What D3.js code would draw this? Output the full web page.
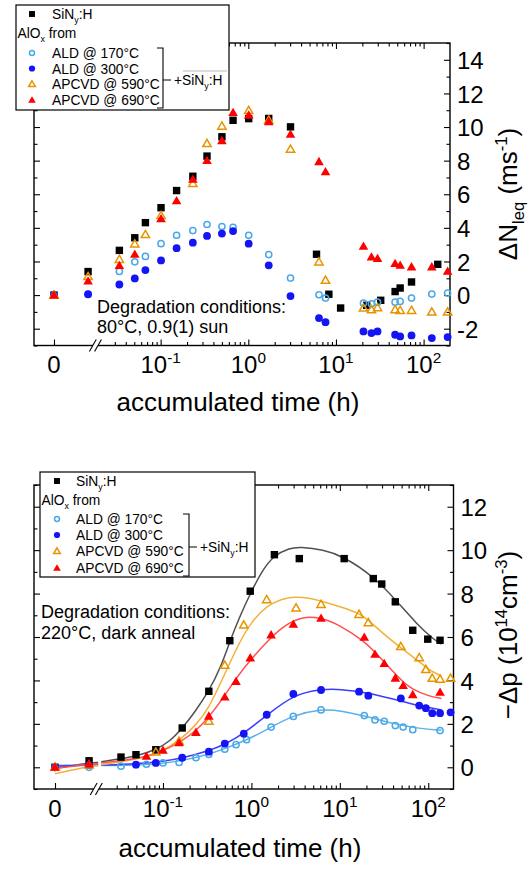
<!DOCTYPE html>
<html><head><meta charset="utf-8">
<script src="https://cdnjs.cloudflare.com/ajax/libs/d3/7.8.5/d3.min.js"></script>
<style>body{margin:0;background:#fff}svg{display:block}</style>
</head><body><svg id="c" width="532" height="869"></svg>
<script>
// ---------------- data ----------------
const legendLabels = ["ALD @ 170°C", "ALD @ 300°C", "APCVD @ 590°C", "APCVD @ 690°C"];
const xMajorTicks = [0.1, 1, 10, 100];
const xMajorExp = ["-1", "0", "1", "2"];
const xMinorTicks = [0.03,0.04,0.05,0.06,0.07,0.08,0.09,0.2,0.3,0.4,0.5,0.6,0.7,0.8,0.9,2,3,4,5,6,7,8,9,20,30,40,50,60,70,80,90];
const topYMajor = [-2, 0, 2, 4, 6, 8, 10, 12, 14];
const topYMinor = [-3, -1, 1, 3, 5, 7, 9, 11, 13, 15];
const botYMajor = [0, 2, 4, 6, 8, 10, 12];
const botYMinor = [-1, 1, 3, 5, 7, 9, 11, 13];

// top panel: ΔN_leq (ms^-1) vs time (h)
const topSiN = [[0,0],[0.0167,1.4],[0.0338,2.66],[0.0507,3.41],[0.067,4.31],[0.101,5.2],[0.152,6.22],[0.233,7.07],[0.338,8.27],[0.5,9.42],[0.67,10.4],[1.01,10.5],[1.71,10.51],[3.03,10.01],[6.0,2.43],[8.3,0.05],[11.3,-0.77],[22.4,-0.61],[32.4,-0.31],[47.3,0.21],[54,0.42],[72.8,0.78],[145,1.83]];
const topALD170 = [[0,0],[0.0167,0.05],[0.0338,1.41],[0.0507,1.98],[0.067,2.3],[0.101,3.06],[0.152,3.56],[0.233,3.84],[0.338,4.2],[0.5,4.08],[0.67,4.03],[1.01,3.56],[1.71,2.41],[3.03,1.01],[6.4,0.02],[7.6,-0.18],[20.6,-0.48],[25.4,-0.52],[29.8,-0.42],[47.3,-0.42],[54,-0.38],[72.8,-0.18],[124,0.06],[188,0.12]];
const topALD300 = [[0,0],[0.0167,0.05],[0.0338,0.63],[0.0507,0.99],[0.067,1.49],[0.101,2.06],[0.152,2.79],[0.233,3.12],[0.338,3.52],[0.5,3.66],[0.67,3.81],[1.01,3.06],[1.71,1.77],[3.03,-0.06],[6.4,-1.37],[7.6,-1.61],[20.6,-2.16],[25.4,-2.26],[29.8,-2.16],[47.3,-2.36],[54,-2.46],[72.8,-2.4],[124,-2.56],[188,-2.5]];
const topAP590 = [[0,0],[0.0167,1.1],[0.0338,2.12],[0.0507,3.04],[0.067,3.6],[0.101,4.73],[0.233,6.64],[0.338,9.02],[0.5,10.05],[1.01,10.98],[1.71,10.41],[3.03,8.68],[6.4,1.97],[7.6,0.88],[20.6,-0.77],[25.4,-0.87],[29.8,-0.75],[47.3,-0.87],[54,-0.91],[72.8,-0.91],[124,-1.01],[188,-1.01]];
const topAP690 = [[0,0],[0.0167,0.83],[0.0338,1.75],[0.0507,2.42],[0.101,4.53],[0.152,5.6],[0.233,6.88],[0.338,8.0],[0.5,9.18],[0.67,10.85],[1.01,10.7],[1.71,10.31],[3.03,9.56],[6.4,7.93],[7.6,7.33],[20.6,2.9],[25.4,2.26],[29.8,2.17],[47.3,1.87],[54,1.77],[72.8,1.67],[124,1.67],[188,1.41]];

// bottom panel: −Δp (10^14 cm^-3) vs time (h)
const botSiN = [[0,0],[0.0167,0.3],[0.0335,0.47],[0.0495,0.58],[0.083,0.81],[0.165,1.81],[0.33,3.5],[0.57,5.83],[0.97,8.11],[1.82,9.79],[3.48,9.61],[11.2,9.61],[23.9,8.69],[29.8,8.44],[42.4,7.62],[66.8,6.31],[98.7,5.9],[136,5.85]];
const botALD170 = [[0,0],[0.0167,0.0],[0.0335,0.05],[0.065,0.14],[0.1,0.2],[0.152,0.22],[0.236,0.44],[0.33,0.59],[0.5,0.83],[0.67,1.04],[0.88,1.27],[1.67,1.85],[2.98,2.34],[6.13,2.64],[18.9,2.38],[25,2.18],[31.8,2.12],[42.4,1.92],[52,1.85],[66.8,1.73],[136,1.69]];
const botALD300 = [[0,0],[0.0167,0.1],[0.0495,0.12],[0.083,0.2],[0.165,0.44],[0.33,0.72],[0.5,1.09],[0.82,1.55],[1.49,2.42],[2.98,3.38],[6.13,3.56],[16.5,3.48],[21,3.3],[49,3.17],[79,2.84],[94,2.72],[111,2.49],[136,2.49],[179,2.53]];
const botAP590 = [[0,0],[0.0167,0.1],[0.083,0.7],[0.152,1.2],[0.33,2.12],[0.5,4.7],[0.82,6.55],[1.49,7.72],[3.2,7.34],[6.13,7.5],[16.5,7.04],[21,6.66],[49,5.56],[79,5.05],[94,4.5],[111,4.1],[136,4.06],[179,4.1]];
const botAP690 = [[0,0],[0.0167,0.15],[0.065,0.5],[0.1,0.78],[0.152,1.12],[0.236,1.6],[0.33,2.35],[0.5,3.23],[0.67,3.95],[0.97,5.03],[1.67,6.09],[2.98,6.58],[6.13,6.86],[18.9,5.98],[25,5.2],[31.8,4.77],[42.4,4.1],[52,3.76],[66.8,3.34],[136,3.45]];

// bottom panel fit curves
const fitSiN = [[0,-0.05],[0.0167,0.2],[0.0185,0.22],[0.02,0.25],[0.034,0.4],[0.05,0.52],[0.083,0.8],[0.12,1.2],[0.165,1.8],[0.23,2.55],[0.33,3.5],[0.45,4.6],[0.57,5.8],[0.74,6.96],[1.0,8.1],[1.3,9.0],[1.77,9.75],[2.73,10.1],[3.54,10.15],[6.5,10.02],[10.9,9.72],[24,8.8],[44,7.66],[74,6.6],[114,5.9],[141,5.67]];
const fitALD170 = [[0,0.1],[0.0167,0.08],[0.0185,0.08],[0.02,0.08],[0.05,0.1],[0.1,0.18],[0.165,0.3],[0.33,0.6],[0.5,0.85],[1.0,1.35],[1.67,1.85],[3,2.4],[6.2,2.68],[10,2.62],[20,2.35],[40,2.0],[80,1.78],[141,1.7]];
const fitALD300 = [[0,0.05],[0.0167,0.1],[0.0185,0.1],[0.02,0.1],[0.05,0.15],[0.1,0.27],[0.165,0.42],[0.33,0.76],[0.5,1.05],[0.82,1.55],[1.49,2.4],[3,3.35],[6.2,3.6],[10,3.6],[20,3.45],[40,3.15],[80,2.82],[141,2.64]];
const fitAP590 = [[0,-0.3],[0.0167,0.05],[0.0185,0.07],[0.02,0.12],[0.05,0.35],[0.083,0.62],[0.12,0.95],[0.165,1.35],[0.23,1.9],[0.33,2.7],[0.5,4.3],[0.74,5.8],[1.0,6.7],[1.5,7.45],[2.2,7.75],[3.0,7.85],[4.5,7.8],[6.2,7.65],[10,7.4],[16.5,7.1],[21,6.78],[30,6.2],[49,5.5],[79,4.88],[100,4.5],[141,4.2]];
const fitAP690 = [[0,-0.05],[0.0167,0.15],[0.0185,0.17],[0.02,0.2],[0.05,0.38],[0.083,0.62],[0.12,0.92],[0.165,1.22],[0.236,1.68],[0.33,2.3],[0.5,3.3],[0.67,4.1],[1.0,5.0],[1.67,6.0],[2.5,6.6],[3.8,6.95],[6.2,6.88],[10,6.55],[18.9,5.8],[25,5.3],[31.8,4.85],[42.4,4.3],[52,3.92],[66.8,3.58],[100,3.28],[141,3.17]];

// ---------------- drawing ----------------
const FONT = '"Liberation Sans", Arial, Helvetica, sans-serif';
const svg = d3.select("#c");
svg.append("rect").attr("width",532).attr("height",869).attr("fill","#fff");

const styles = {
  SiN:    {shape:"square",   color:"#000000", fill:true},
  ALD170: {shape:"circle",   color:"#4aa8e8", fill:false},
  ALD300: {shape:"circle",   color:"#1414f5", fill:true},
  AP590:  {shape:"triangle", color:"#e69500", fill:false},
  AP690:  {shape:"triangle", color:"#ff0000", fill:true}
};
const fitColors = {SiN:"#505050", ALD170:"#5ab2e6", ALD300:"#3c3cff", AP590:"#f2b23a", AP690:"#ff5050"};

function rich(textSel, parts, size) {
  let shift = 0;
  parts.forEach(([s, k]) => {
    const target = k === "sub" ? 0.28*size : k === "sup" ? -0.4*size : 0;
    const ts = textSel.append("tspan").text(s).attr("dy", target - shift);
    if (k !== "n") ts.attr("font-size", size*0.64);
    shift = target;
  });
}

function marker(g, key, x, y, scale) {
  const st = styles[key];
  const sw = 1.5;
  if (st.shape === "square") {
    const s = 7.4*scale;
    g.append("rect").attr("x", x-s/2).attr("y", y-s/2).attr("width", s).attr("height", s).attr("fill", st.color);
  } else if (st.shape === "circle") {
    if (st.fill) g.append("circle").attr("cx",x).attr("cy",y).attr("r",3.9*scale).attr("fill",st.color);
    else g.append("circle").attr("cx",x).attr("cy",y).attr("r",3.1*scale).attr("fill","none").attr("stroke",st.color).attr("stroke-width",sw);
  } else {
    const sz = (st.fill ? 40 : 30)*scale*scale;
    g.append("path").attr("d", d3.symbol(d3.symbolTriangle, sz)())
      .attr("transform", `translate(${x},${y+0.6})`)
      .attr("fill", st.fill ? st.color : "none")
      .attr("stroke", st.fill ? "none" : st.color).attr("stroke-width", sw);
  }
}

function drawPanel(cfg) {
  const g = svg.append("g");
  const y = d3.scaleLinear().domain(cfg.yDomain).range([cfg.bottom, cfg.top]);
  const xLin = d3.scaleLinear().domain([0, 0.02]).range(cfg.linRange);
  const xLog = d3.scaleLog().domain(cfg.logDomain).range(cfg.logRange);
  const X = t => t < 0.018 ? xLin(t) : xLog(t);

  // frame
  g.append("rect").attr("x", cfg.left).attr("y", cfg.top)
    .attr("width", cfg.right-cfg.left).attr("height", cfg.bottom-cfg.top)
    .attr("fill","none").attr("stroke","#000").attr("stroke-width",1.4);

  function tickAxis(axis, transform) {
    const a = g.append("g").attr("transform", transform).call(axis);
    a.select(".domain").remove();
    a.selectAll("line").attr("stroke","#000").attr("stroke-width",1.1);
    a.attr("font-family", FONT);
    return a;
  }
  // x ticks (bottom & top, inward)
  tickAxis(d3.axisBottom(xLog).tickValues(xMajorTicks).tickSizeInner(-6).tickSizeOuter(0).tickFormat(""), `translate(0,${cfg.bottom})`);
  tickAxis(d3.axisBottom(xLog).tickValues(xMinorTicks).tickSizeInner(-3.5).tickSizeOuter(0).tickFormat(""), `translate(0,${cfg.bottom})`);
  tickAxis(d3.axisBottom(xLin).tickValues([0]).tickSizeInner(-6).tickSizeOuter(0).tickFormat(""), `translate(0,${cfg.bottom})`);
  tickAxis(d3.axisTop(xLog).tickValues(xMajorTicks).tickSizeInner(-6).tickSizeOuter(0).tickFormat(""), `translate(0,${cfg.top})`);
  tickAxis(d3.axisTop(xLog).tickValues(xMinorTicks).tickSizeInner(-3.5).tickSizeOuter(0).tickFormat(""), `translate(0,${cfg.top})`);
  tickAxis(d3.axisTop(xLin).tickValues([0]).tickSizeInner(-6).tickSizeOuter(0).tickFormat(""), `translate(0,${cfg.top})`);
  // y ticks
  tickAxis(d3.axisLeft(y).tickValues(cfg.yMajor).tickSizeInner(-6).tickSizeOuter(0).tickFormat(""), `translate(${cfg.left},0)`);
  tickAxis(d3.axisLeft(y).tickValues(cfg.yMinor).tickSizeInner(-3.5).tickSizeOuter(0).tickFormat(""), `translate(${cfg.left},0)`);
  const ry = tickAxis(d3.axisRight(y).tickValues(cfg.yMajor).tickSizeInner(-6).tickSizeOuter(0).tickPadding(7).tickFormat(d => String(d)), `translate(${cfg.right},0)`);
  ry.attr("font-size", 24);
  ry.selectAll("text").attr("fill","#000").attr("dy","0.36em");
  tickAxis(d3.axisRight(y).tickValues(cfg.yMinor).tickSizeInner(-3.5).tickSizeOuter(0).tickFormat(""), `translate(${cfg.right},0)`);

  // axis break
  const bx = (cfg.linRange[1] + cfg.logRange[0]) / 2;
  g.append("rect").attr("x", bx-2.6).attr("y", cfg.bottom-3).attr("width", 5.2).attr("height", 6).attr("fill","#fff");
  [-2.6, 2.6].forEach(o => g.append("line")
    .attr("x1", bx+o-3.4).attr("y1", cfg.bottom+6).attr("x2", bx+o+3.4).attr("y2", cfg.bottom-6)
    .attr("stroke","#000").attr("stroke-width",1.1));

  // x tick labels
  const lab = g.append("g").attr("font-family", FONT).attr("font-size", 24).attr("fill","#000").attr("text-anchor","middle");
  lab.append("text").attr("x", xLin(0)).attr("y", cfg.xLabelY).text("0");
  xMajorTicks.forEach((t, i) => {
    const tx = lab.append("text").attr("x", xLog(t)).attr("y", cfg.xLabelY);
    rich(tx, [["10","n"],[xMajorExp[i],"sup"]], 24);
  });
  g.append("text").attr("font-family", FONT).attr("font-size", 26).attr("text-anchor","middle")
    .attr("x", cfg.xTitleX).attr("y", cfg.xTitleY).text("accumulated time (h)");

  // y title
  const yt = g.append("text").attr("font-family", FONT).attr("font-size", 26).attr("text-anchor","middle")
    .attr("transform", `translate(${cfg.yTitleX},${cfg.yTitleY}) rotate(-90)`);
  rich(yt, cfg.yTitle, 26);

  // fit curves
  if (cfg.fits) {
    const line = d3.line().x(d => X(d[0])).y(d => y(d[1])).curve(d3.curveBasis);
    cfg.fits.forEach(([key, pts]) => {
      const pre = pts.filter(d => d[0] < 0.019);
      const post = pts.filter(d => d[0] >= 0.019);
      [pre, post].forEach(seg => g.append("path").attr("d", line(seg)).attr("fill","none")
        .attr("stroke", fitColors[key]).attr("stroke-width", 1.5));
    });
  }
  // markers
  cfg.series.forEach(([key, pts]) => {
    const mg = g.append("g");
    pts.forEach(d => marker(mg, key, X(d[0]), y(d[1]), cfg.mscale));
  });

  // degradation text
  const dt = g.append("g").attr("font-family", FONT).attr("font-size", 18).attr("fill","#000");
  cfg.note.forEach((s, i) => dt.append("text").attr("x", cfg.noteX).attr("y", cfg.noteY[i]).text(s));

  // legend
  const L = cfg.legend;
  const fs = 13.8;
  const lg = g.append("g").attr("font-family", FONT).attr("font-size", fs).attr("fill","#000");
  lg.append("rect").attr("x", L.x).attr("y", L.y).attr("width", L.w).attr("height", L.h)
    .attr("fill","#fff").attr("stroke","#000").attr("stroke-width",1.2);
  marker(lg, "SiN", L.symX, L.rows[0], 0.8);
  rich(lg.append("text").attr("x", L.textX).attr("y", L.rows[0]+5), [["SiN","n"],["y","sub"],[":H","n"]], fs);
  rich(lg.append("text").attr("x", L.x+1.5).attr("y", L.rows[1]+5), [["AlO","n"],["x","sub"],[" from","n"]], fs);
  ["ALD170","ALD300","AP590","AP690"].forEach((k, i) => {
    marker(lg, k, L.symX, L.rows[i+2], 0.8);
    lg.append("text").attr("x", L.textX).attr("y", L.rows[i+2]+5).text(legendLabels[i]);
  });
  const B = L.bracket;
  lg.append("path").attr("d", `M${B.x-6},${B.y1}H${B.x}V${B.y2}H${B.x-6}M${B.x},${B.ym}H${B.x+8}`)
    .attr("fill","none").attr("stroke","#000").attr("stroke-width",1.1);
  rich(lg.append("text").attr("x", B.x+11).attr("y", B.ym+5), [["+","n"],["SiN","n"],["y","sub"],[":H","n"]], fs);
  if (B.grayLine) lg.append("line").attr("x1", B.x+20).attr("x2", L.x+L.w-2).attr("y1", B.ym-9).attr("y2", B.ym-9)
    .attr("stroke","#bbb").attr("stroke-width",1);
}

drawPanel({
  left:34, right:450, top:43, bottom:345.5,
  yDomain:[-3,15], yMajor:topYMajor, yMinor:topYMinor,
  linRange:[54, 94.8], logDomain:[0.0183, 200], logRange:[96, 450],
  xLabelY:373, xTitleX:238, xTitleY:411,
  yTitleX:517, yTitleY:194,
  yTitle:[["ΔN","n"],["leq","sub"],[" (ms","n"],["-1","sup"],[")","n"]],
  series:[["SiN",topSiN],["ALD170",topALD170],["ALD300",topALD300],["AP590",topAP590],["AP690",topAP690]],
  mscale:1,
  note:["Degradation conditions:","80°C, 0.9(1) sun"], noteX:97, noteY:[313,333],
  legend:{x:16, y:5, w:213, h:105, symX:32, textX:52, rows:[14,33,53,68.5,84,100],
    bracket:{x:163, y1:48, y2:108, ym:80, grayLine:true}}
});

drawPanel({
  left:34, right:453.5, top:485, bottom:789,
  yDomain:[-1,13], yMajor:botYMajor, yMinor:botYMinor,
  linRange:[55, 95.8], logDomain:[0.0178, 193], logRange:[96.7, 453.5],
  xLabelY:817, xTitleX:240, xTitleY:857,
  yTitleX:517, yTitleY:635,
  yTitle:[["−Δp (10","n"],["14","sup"],["cm","n"],["-3","sup"],[")","n"]],
  fits:[["SiN",fitSiN],["ALD170",fitALD170],["ALD300",fitALD300],["AP590",fitAP590],["AP690",fitAP690]],
  series:[["SiN",botSiN],["ALD170",botALD170],["ALD300",botALD300],["AP590",botAP590],["AP690",botAP690]],
  mscale:1,
  note:["Degradation conditions:","220°C, dark anneal"], noteX:41, noteY:[618,639],
  legend:{x:40, y:472, w:215, h:105, symX:57, textX:76, rows:[481,500,519,535,551,568],
    bracket:{x:189, y1:514, y2:576, ym:547, grayLine:false}}
});
</script></body></html>
